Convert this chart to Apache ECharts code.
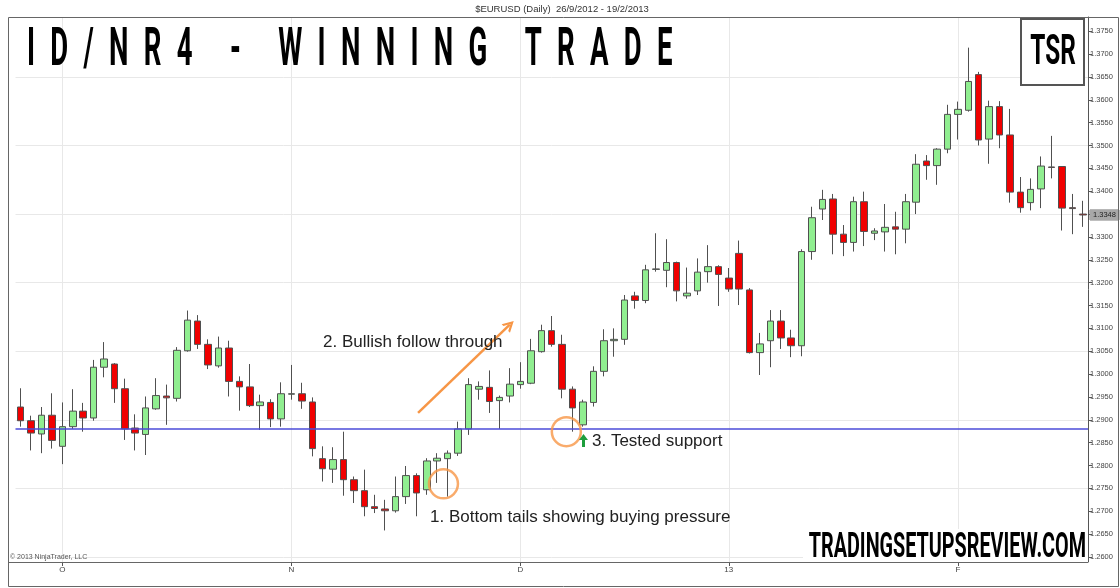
<!DOCTYPE html>
<html><head><meta charset="utf-8">
<script src="https://cdn.jsdelivr.net/npm/echarts@6/dist/echarts.min.js"></script>
<style>html,body{margin:0;padding:0;background:#fff}#c{width:1120px;height:588px}</style>
</head><body><div id="c"></div>
<script>
// ---------- DATA ----------
const dates = [
"2012-09-25","2012-09-26","2012-09-27","2012-09-28",
"2012-10-01","2012-10-02","2012-10-03","2012-10-04","2012-10-05","2012-10-08","2012-10-09","2012-10-10","2012-10-11","2012-10-12",
"2012-10-15","2012-10-16","2012-10-17","2012-10-18","2012-10-19","2012-10-22","2012-10-23","2012-10-24","2012-10-25","2012-10-26","2012-10-29","2012-10-31",
"2012-11-01","2012-11-02","2012-11-05","2012-11-06","2012-11-07","2012-11-08","2012-11-09","2012-11-12","2012-11-13","2012-11-14","2012-11-15",
"2012-11-16","2012-11-19","2012-11-20","2012-11-21","2012-11-22","2012-11-23","2012-11-26","2012-11-27","2012-11-28","2012-11-29","2012-11-30",
"2012-12-03","2012-12-04","2012-12-05","2012-12-06","2012-12-07","2012-12-10","2012-12-11","2012-12-12","2012-12-13","2012-12-14",
"2012-12-17","2012-12-18","2012-12-19","2012-12-20","2012-12-21","2012-12-24","2012-12-26","2012-12-27","2012-12-28","2012-12-31",
"2013-01-02","2013-01-03","2013-01-04","2013-01-07","2013-01-08","2013-01-09","2013-01-10","2013-01-11","2013-01-14","2013-01-15","2013-01-16",
"2013-01-17","2013-01-18","2013-01-21","2013-01-22","2013-01-23","2013-01-24","2013-01-25","2013-01-28","2013-01-29","2013-01-30","2013-01-31",
"2013-02-01","2013-02-04","2013-02-05","2013-02-06","2013-02-07","2013-02-08","2013-02-11","2013-02-12","2013-02-13","2013-02-14","2013-02-15","2013-02-18","2013-02-19"
];
const opens = [
1.2928,1.2898,1.2869,1.2910,1.2842,1.2885,1.2919,1.2904,1.3015,1.3022,
1.2968,1.2882,1.2868,1.2924,1.2952,1.2947,1.3051,1.3116,1.3065,1.3018,
1.3057,1.2984,1.2972,1.2931,1.2938,1.2902,1.2956,1.2957,1.2939,1.2815,
1.2792,1.2813,1.2769,1.2745,1.2710,1.2705,1.2701,1.2732,1.2778,1.2747,
1.2810,1.2815,1.2827,1.2880,1.2967,1.2971,1.2942,1.2952,1.2977,1.2980,
1.3049,1.3095,1.3065,1.2967,1.2889,1.2938,1.3006,1.3073,1.3076,1.3171,
1.3161,1.3229,1.3227,1.3244,1.3171,1.3182,1.3224,1.3235,1.3210,1.3264,
1.3184,1.3047,1.3073,1.3116,1.3079,1.3062,1.3268,1.3361,1.3383,1.3306,
1.3288,1.3377,1.3308,1.3311,1.3322,1.3317,1.3376,1.3466,1.3456,1.3492,
1.3568,1.3577,1.3655,1.3514,1.3585,1.3523,1.3398,1.3375,1.3405,1.3453,
1.3454,1.3364,1.3350
];
const highs = [
1.2969,1.2909,1.2928,1.2958,1.2938,1.2967,1.2937,1.3031,1.3070,1.3024,
1.2990,1.2912,1.2951,1.2991,1.2977,1.3059,1.3139,1.3129,1.3076,1.3082,
1.3073,1.2995,1.3022,1.2955,1.2945,1.2982,1.3020,1.2981,1.2949,1.2842,
1.2840,1.2874,1.2776,1.2791,1.2736,1.2725,1.2776,1.2799,1.2783,1.2816,
1.2827,1.2833,1.2896,1.2991,1.2984,1.3008,1.2953,1.3013,1.3026,1.3077,
1.3108,1.3127,1.3086,1.2973,1.2944,1.3017,1.3098,1.3100,1.3173,1.3180,
1.3239,1.3308,1.3295,1.3246,1.3233,1.3253,1.3282,1.3238,1.3232,1.3292,
1.3188,1.3090,1.3140,1.3140,1.3097,1.3273,1.3366,1.3403,1.3394,1.3326,
1.3388,1.3399,1.3319,1.3372,1.3355,1.3394,1.3481,1.3479,1.3494,1.3589,
1.3596,1.3714,1.3661,1.3598,1.3597,1.3580,1.3431,1.3428,1.3476,1.3521,
1.3455,1.3394,1.3379
];
const lows = [
1.2885,1.2833,1.2827,1.2837,1.2803,1.2880,1.2874,1.2898,1.2993,1.2937,
1.2856,1.2833,1.2823,1.2922,1.2889,1.2940,1.3049,1.3055,1.3011,1.3014,
1.2951,1.2920,1.2928,1.2878,1.2884,1.2885,1.2944,1.2924,1.2820,1.2765,
1.2762,1.2734,1.2718,1.2689,1.2696,1.2658,1.2697,1.2716,1.2689,1.2736,
1.2762,1.2732,1.2821,1.2867,1.2944,1.2915,1.2880,1.2938,1.2968,1.2978,
1.3047,1.3060,1.2947,1.2874,1.2885,1.2929,1.2995,1.3038,1.3064,1.3143,
1.3155,1.3224,1.3190,1.3159,1.3165,1.3173,1.3200,1.3149,1.3180,1.3151,
1.3045,1.2998,1.3015,1.3055,1.3037,1.3039,1.3250,1.3337,1.3262,1.3258,
1.3268,1.3280,1.3293,1.3268,1.3262,1.3286,1.3350,1.3425,1.3414,1.3483,
1.3513,1.3574,1.3500,1.3460,1.3494,1.3375,1.3353,1.3358,1.3363,1.3428,
1.3314,1.3306,1.3322
];
const closes = [
1.2898,1.2871,1.2910,1.2855,1.2885,1.2919,1.2904,1.3015,1.3033,1.2968,
1.2880,1.2871,1.2926,1.2953,1.2948,1.3052,1.3118,1.3065,1.3020,1.3057,
1.2984,1.2972,1.2931,1.2939,1.2902,1.2957,1.2957,1.2941,1.2837,1.2793,
1.2813,1.2769,1.2745,1.2710,1.2706,1.2701,1.2732,1.2778,1.2740,1.2810,
1.2816,1.2827,1.2880,1.2977,1.2973,1.2940,1.2949,1.2978,1.2984,1.3051,
1.3095,1.3065,1.2967,1.2926,1.2939,1.3006,1.3073,1.3076,1.3162,1.3161,
1.3228,1.3230,1.3244,1.3182,1.3177,1.3223,1.3235,1.3218,1.3186,1.3186,
1.3047,1.3066,1.3116,1.3079,1.3062,1.3268,1.3342,1.3382,1.3306,1.3288,
1.3377,1.3312,1.3313,1.3321,1.3317,1.3377,1.3459,1.3456,1.3492,1.3568,
1.3579,1.3640,1.3512,1.3585,1.3523,1.3398,1.3364,1.3404,1.3455,1.3452,
1.3363,1.3362,1.3348
];
const yTicks = [1.2600,1.2650,1.2700,1.2750,1.2800,1.2850,1.2900,1.2950,1.3000,1.3050,1.3100,1.3150,
                1.3200,1.3250,1.3300,1.3350,1.3400,1.3450,1.3500,1.3550,1.3600,1.3650,1.3700,1.3750];
const gridLevels = [1.2600,1.2750,1.2900,1.3050,1.3200,1.3350,1.3500,1.3650];
const supportLevel = 1.2880;
const arrowFrom = [38.16, 1.2915];
const arrowTo = [46.97, 1.3108];
const circleSpots = [[40.6, 1.2760], [52.4, 1.2874]];
const titleRed = 'ID/NR4';
const titleBlack = ' - WINNING TRADE';
const subTitle = '$EURUSD (Daily)  26/9/2012 - 19/2/2013';
const note1 = '1. Bottom tails showing buying pressure';
const note2 = '2. Bullish follow through';
const note3 = '3. Tested support';
const copyright = '\u00A9 2013 NinjaTrader, LLC';

// ---------- CHART ----------
const chart = echarts.init(document.getElementById('c'), null, {renderer: 'canvas', width: 1120, height: 588});
const isMonthStart = i => i > 0 && dates[i].slice(5, 7) !== dates[i - 1].slice(5, 7);
const monthLabel = i => { const m = +dates[i].slice(5, 7); return m === 1 ? dates[i].slice(2, 4) : 'JFMAMJJASOND'[m - 1]; };
const monthStarts = dates.map((d, i) => i).filter(isMonthStart);
const candleData = opens.map((o, i) => [o, closes[i], lows[i], highs[i]]);
const last = closes[closes.length - 1];
const ORANGE = '#f79646';
const DARKRED = '#8b0d0d';
const spaced = (s, st) => s.split('').map(ch => '{' + st + '|' + ch + '}').join('');
const P = 14.7;

chart.setOption({
  animation: false,
  backgroundColor: '#ffffff',
  grid: {left: 15.5, right: 32, top: 17, bottom: 26},
  xAxis: [
    {type: 'category', data: dates, boundaryGap: true,
     axisLine: {show: false},
     axisTick: {show: true, alignWithLabel: true, interval: i => isMonthStart(i), length: 4, lineStyle: {color: '#555'}},
     axisLabel: {interval: i => isMonthStart(i), formatter: (v, i) => monthLabel(i), fontSize: 8, color: '#444', margin: 4, fontFamily: 'Liberation Sans'},
     splitLine: {show: false}},
    {type: 'value', min: -0.5, max: dates.length - 0.5, show: false}
  ],
  yAxis: {type: 'value', position: 'right', min: 1.2589, max: 1.3781,
    axisLine: {show: true, onZero: false, lineStyle: {color: '#555'}},
    axisTick: {show: true, length: 4, customValues: yTicks, lineStyle: {color: '#555'}},
    axisLabel: {customValues: yTicks, formatter: v => v.toFixed(4), fontSize: 7.5, color: '#444', margin: 2, fontFamily: 'Liberation Sans'},
    splitLine: {show: false}},
  series: [
    {type: 'line', xAxisIndex: 1, data: [], silent: true, clip: false,
     markLine: {silent: true, symbol: 'none', z: 1, animation: false, precision: 4, label: {show: false},
       lineStyle: {color: '#e8e8e8', width: 1, type: 'solid'},
       emphasis: {disabled: true},
       data: gridLevels.map(v => ({yAxis: v})).concat(monthStarts.map(i => ({xAxis: i}))).concat([
         {yAxis: last, lineStyle: {color: 'rgba(0,0,0,0)', width: 0},
          label: {show: true, position: 'end', distance: 2,
            formatter: p => Number(p.value).toFixed(4), fontSize: 7.5, color: '#222', backgroundColor: '#a8a8a8',
            borderColor: '#777', borderWidth: 0.5, padding: [1, 3, 1, 3], fontFamily: 'Liberation Sans'}}
       ])}},
    {type: 'candlestick', xAxisIndex: 0, data: candleData, barWidth: 7, z: 2,
     itemStyle: {color: '#90ee90', color0: '#f00000', borderColor: '#505050', borderColor0: '#505050', borderWidth: 1},
     markLine: {silent: true, symbol: 'none', z: 6, animation: false, precision: 4,
       emphasis: {disabled: true},
       data: [
        {yAxis: supportLevel, lineStyle: {color: '#4b4bd8', width: 1.6, type: 'solid'}, label: {show: false}}
       ]}},
    {type: 'scatter', xAxisIndex: 1, data: circleSpots, z: 7, silent: true,
     symbol: 'circle', symbolSize: 29,
     itemStyle: {color: 'rgba(0,0,0,0)', borderColor: ORANGE, borderWidth: 2.5},
     markLine: {silent: true, animation: false, z: 7, precision: 4,
       symbol: ['none', 'path://M0,12 L6,0 L12,12 L9.5,12 L6,5 L2.5,12 Z'], symbolSize: [12, 11],
       lineStyle: {color: ORANGE, width: 2.5, type: 'solid'}, label: {show: false},
       emphasis: {disabled: true},
       data: [[{coord: arrowFrom}, {coord: arrowTo}]]}}
  ],
  graphic: [
    {type: 'rect', z: 20, silent: true, shape: {x: 8.5, y: 17.5, width: 1110, height: 569}, style: {fill: 'none', stroke: '#666', lineWidth: 1}},
    {type: 'line', z: 20, silent: true, shape: {x1: 8, y1: 562.5, x2: 1088, y2: 562.5}, style: {stroke: '#666', lineWidth: 1}},
    {type: 'text', z: 20, silent: true, x: 562, y: 9,
     style: {text: subTitle, font: '9.5px "Liberation Sans", Arial, sans-serif', fill: '#333', align: 'center', verticalAlign: 'middle'}},
    {type: 'text', z: 20, silent: true, x: 19.3, y: 52, scaleX: 0.52, scaleY: 1,
     style: {text: spaced(titleRed, 'r') + spaced(titleBlack, 'k'), verticalAlign: 'middle', align: 'left',
       rich: {r: {fontSize: 53, fontFamily: 'Roboto', fontWeight: 'bold', color: DARKRED, padding: [0, P, 0, P]},
              k: {fontSize: 53, fontFamily: 'Roboto', fontWeight: 'bold', color: '#111', padding: [0, P, 0, P]}}}},
    {type: 'rect', z: 20, silent: true, shape: {x: 1021, y: 19, width: 63, height: 66}, style: {fill: '#fff', stroke: '#555', lineWidth: 2}},
    {type: 'text', z: 21, silent: true, x: 1053, y: 53, scaleX: 0.58,
     style: {text: '{b|T}{s|S}{b|R}', align: 'center', verticalAlign: 'middle',
       rich: {b: {fontSize: 42, fontFamily: 'Roboto', fontWeight: 'bold', color: '#111'}, s: {fontSize: 42, fontFamily: 'Roboto', fontWeight: 'bold', color: DARKRED}}}},
    {type: 'rect', z: 20, silent: true, shape: {x: 803, y: 529, width: 285, height: 33}, style: {fill: '#fff'}},
    {type: 'text', z: 21, silent: true, x: 1086, y: 548, scaleX: 0.565,
     style: {text: '{b|TRADING}{s|SETUPS}{b|REVIEW.COM}', align: 'right', verticalAlign: 'middle',
       rich: {b: {fontSize: 35, fontFamily: 'Roboto', fontWeight: 'bold', color: '#111'},
              s: {fontSize: 35, fontFamily: 'Roboto', fontWeight: 'bold', color: DARKRED}}}},
    {type: 'text', z: 20, silent: true, x: 10, y: 557,
     style: {text: copyright, font: '7px "Liberation Sans", Arial, sans-serif', fill: '#555', verticalAlign: 'middle'}},
    {type: 'text', z: 20, silent: true, x: 323, y: 342,
     style: {text: note2, font: '17px "Liberation Sans", Arial, sans-serif', fill: '#222', verticalAlign: 'middle'}},
    {type: 'text', z: 20, silent: true, x: 430, y: 517,
     style: {text: note1, font: '17px "Liberation Sans", Arial, sans-serif', fill: '#222', verticalAlign: 'middle'}},
    {type: 'text', z: 20, silent: true, x: 592, y: 441,
     style: {text: note3, font: '17px "Liberation Sans", Arial, sans-serif', fill: '#222', verticalAlign: 'middle'}},
    {type: 'polygon', z: 20, silent: true,
     shape: {points: [[579, 440], [583.5, 434], [588, 440], [585, 440], [585, 447], [582, 447], [582, 440]]},
     style: {fill: '#1e9e3c'}}
  ]
});
</script></body></html>
